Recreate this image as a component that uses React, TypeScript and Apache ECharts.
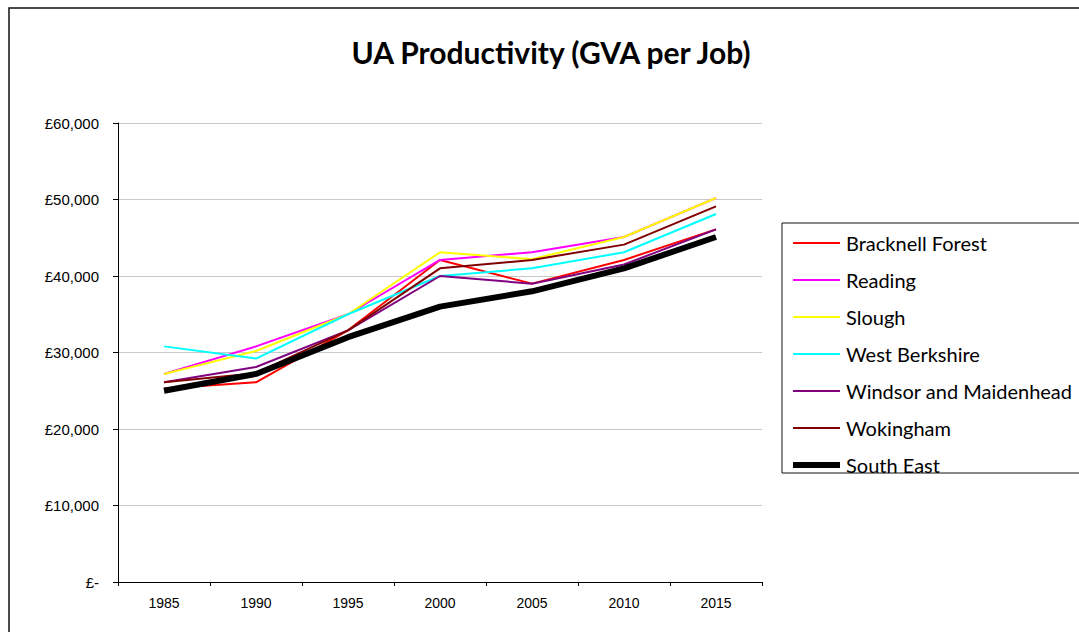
import React, { useEffect, useRef } from "react";
import * as echarts from "echarts";

const years = ["1985", "1990", "1995", "2000", "2005", "2010", "2015"];
const bracknellForest = [25300, 26100, 32900, 42100, 39000, 42100, 46100];
const reading = [27200, 30800, 35000, 42100, 43100, 45100, 50200];
const slough = [27200, 30200, 35000, 43100, 42200, 45100, 50200];
const westBerkshire = [30800, 29200, 35000, 40000, 41000, 43100, 48100];
const windsorMaidenhead = [26100, 28100, 32900, 40000, 39000, 41500, 46100];
const wokingham = [26100, 27300, 32900, 41000, 42100, 44100, 49100];
const southEast = [25000, 27200, 32000, 36000, 38000, 41000, 45100];

const seriesNames = [
  "Bracknell Forest",
  "Reading",
  "Slough",
  "West Berkshire",
  "Windsor and Maidenhead",
  "Wokingham",
  "South East",
];
const seriesData = [
  bracknellForest,
  reading,
  slough,
  westBerkshire,
  windsorMaidenhead,
  wokingham,
  southEast,
];
const seriesColors = ["#FF0000", "#FF00FF", "#FFFF00", "#00FFFF", "#800080", "#800000", "#000000"];
const seriesWidths = [2, 2, 2, 2, 2, 2, 6];

export default function App() {
  const ref = useRef<HTMLDivElement>(null);
  useEffect(() => {
    if (!ref.current) return;
    const chart = echarts.init(ref.current, undefined, { renderer: "svg" });
    chart.setOption({
      animation: false,
      backgroundColor: "#ffffff",
      grid: { left: 118, right: 317, top: 123, bottom: 50, containLabel: false },
      xAxis: {
        type: "category",
        data: years,
        boundaryGap: true,
        axisLine: { lineStyle: { color: "#000", width: 1 } },
        axisTick: { show: true, length: 4, lineStyle: { color: "#000" } },
        axisLabel: {
          margin: 14,
          color: "#000",
          fontFamily: "Liberation Sans",
          fontSize: 14,
        },
        splitLine: { show: false },
      },
      yAxis: {
        type: "value",
        min: 0,
        max: 60000,
        interval: 10000,
        axisLine: { show: true, lineStyle: { color: "#000", width: 1 } },
        axisTick: { show: true, length: 5, lineStyle: { color: "#000" } },
        axisLabel: {
          margin: 19,
          color: "#000",
          fontFamily: "Liberation Sans",
          fontSize: 15,
          formatter: (v: number) =>
            v === 0 ? "£-" : "£" + v.toLocaleString("en-GB"),
        },
        splitLine: { show: true, lineStyle: { color: "#c8c8c8", width: 1 } },
      },
      legend: {
        orient: "vertical",
        left: 790,
        top: 233,
        itemWidth: 47,
        itemHeight: 14,
        itemGap: 17,
        padding: 0,
        itemStyle: { opacity: 0 },
        textStyle: { fontFamily: "Lato", fontSize: 20, color: "#000", padding: [0, 0, 0, 1] },
        data: seriesNames.map((name, i) => ({
          name,
          lineStyle: { width: seriesWidths[i], color: seriesColors[i] },
        })),
      },
      graphic: [
        {
          type: "rect",
          shape: { x: 9, y: 8, width: 1200, height: 800 },
          style: { fill: "none", stroke: "#111", lineWidth: 1.5 },
          silent: true,
        },
        {
          type: "rect",
          shape: { x: 782, y: 223, width: 400, height: 250 },
          style: { fill: "none", stroke: "#111", lineWidth: 1 },
          silent: true,
        },
        {
          type: "text",
          x: 551,
          y: 52,
          style: {
            text: "UA Productivity (GVA per Job)",
            fontFamily: "Lato",
            fontWeight: "bold",
            fontSize: 30,
            fill: "#000",
            textAlign: "center",
            textVerticalAlign: "middle",
          },
        },
      ],
      series: seriesNames.map((name, i) => ({
        name,
        type: "line",
        data: seriesData[i],
        symbol: "none",
        showSymbol: false,
        lineStyle: { color: seriesColors[i], width: seriesWidths[i] },
        itemStyle: { color: seriesColors[i] },
        z: i === 6 ? 3 : 2,
      })),
    });
    return () => chart.dispose();
  }, []);
  return (
    <div
      ref={ref}
      style={{ position: "fixed", left: 0, top: 0, width: 1079, height: 632 }}
    />
  );
}
